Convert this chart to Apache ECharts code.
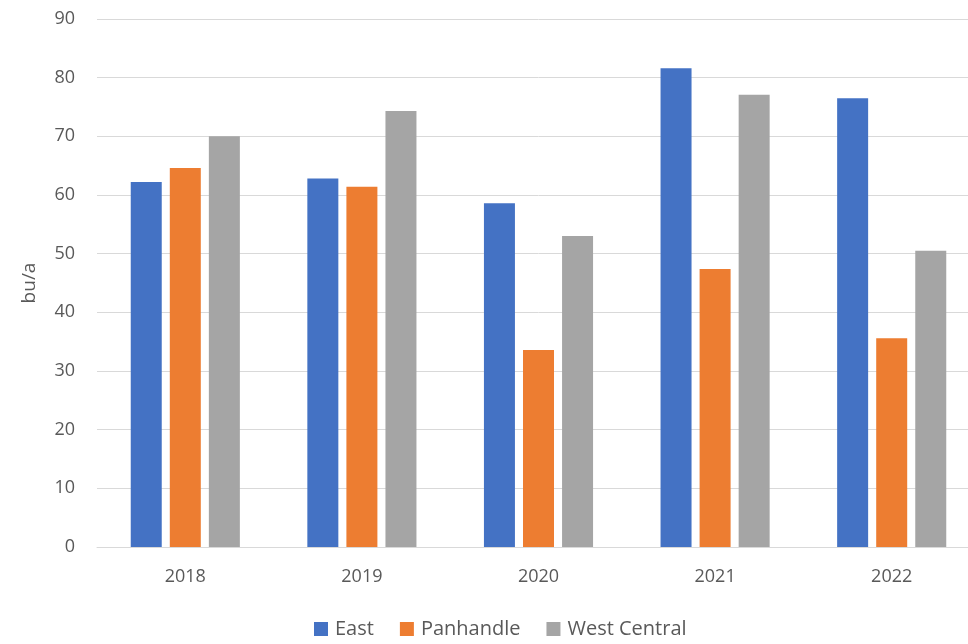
<!DOCTYPE html>
<html>
<head>
<meta charset="utf-8">
<script src="https://cdn.jsdelivr.net/npm/echarts@6/dist/echarts.min.js"></script>
<style>
  html, body { margin: 0; padding: 0; background: #fff; overflow: hidden; }
  #chart { width: 980px; height: 644px; }
</style>
</head>
<body>
<div id="chart"></div>
<script>
// 数据
var years = ['2018', '2019', '2020', '2021', '2022'];
var east = [62.2, 62.8, 58.6, 81.6, 76.5];
var panhandle = [64.6, 61.4, 33.6, 47.4, 35.6];
var westCentral = [70.0, 74.3, 53.0, 77.1, 50.5];

var font = 'Open Sans';

// 图表比窗口略宽，右侧被裁掉
var myChart = echarts.init(document.getElementById('chart'));

function bar(name, data, color) {
  return {
    name: name,
    type: 'bar',
    data: data,
    barWidth: 31,
    barGap: '26%',
    itemStyle: {color: color}
  };
}

var option = {
  animation: false,
  textStyle: {fontFamily: font},
  legend: {
    bottom: 0, left: 309, itemWidth: 14, itemHeight: 14, itemGap: 26,
    icon: 'rect',
    textStyle: {fontSize: 20, color: '#595959', fontFamily: font, padding: [0, 0, 0, 2]},
    data: ['East', 'Panhandle', 'West Central']
  },
  grid: {left: 97, top: 19, right: 0, bottom: 97},
  xAxis: {
    type: 'category',
    data: years,
    axisTick: {show: false},
    axisLine: {lineStyle: {color: '#d9d9d9'}},
    axisLabel: {fontSize: 18, color: '#595959', margin: 21}
  },
  yAxis: {
    type: 'value', min: 0, max: 90, interval: 10,
    name: 'bu/a', nameLocation: 'middle', nameGap: 58,
    nameTextStyle: {fontSize: 19, color: '#595959'},
    axisLabel: {fontSize: 18, color: '#595959', margin: 22},
    splitLine: {lineStyle: {color: '#d9d9d9'}}
  },
  series: [
    bar('East', east, '#4472C4'),
    bar('Panhandle', panhandle, '#ED7D31'),
    bar('West Central', westCentral, '#A5A5A5')
  ]
};

myChart.setOption(option);
</script>
</body>
</html>
